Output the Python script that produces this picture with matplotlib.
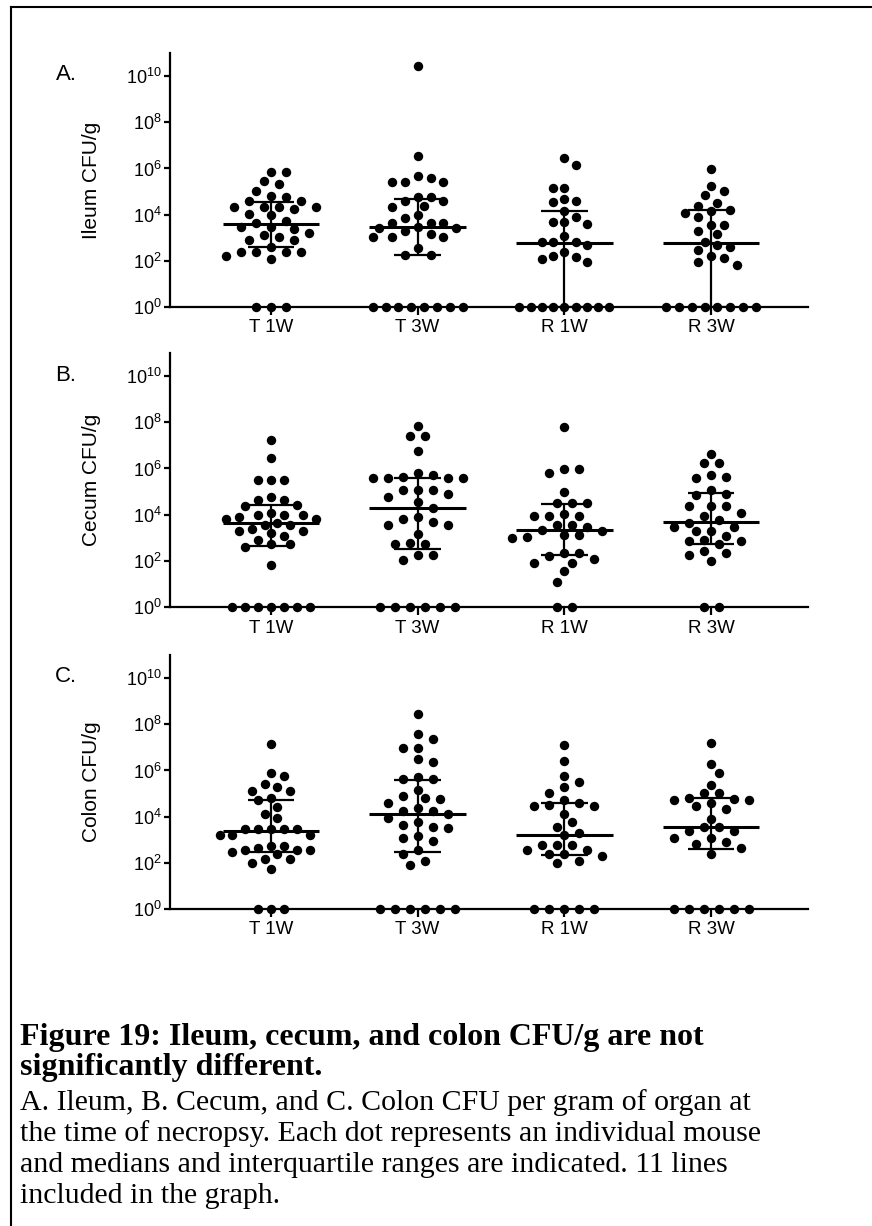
import numpy as np
import matplotlib
matplotlib.use("Agg")
import matplotlib.pyplot as plt
from matplotlib.lines import Line2D
from matplotlib.ticker import NullLocator

plt.rcParams["font.family"] = ["Liberation Sans", "DejaVu Sans"]
plt.rcParams["mathtext.fontset"] = "custom"
plt.rcParams["mathtext.rm"] = "Liberation Sans"
plt.rcParams["mathtext.it"] = "Liberation Sans:italic"

# ---------------------------------------------------------------------------
# Data (log10 CFU/g per mouse; 0 = no growth, drawn on the 10^0 floor)
# ---------------------------------------------------------------------------
groups = ["T 1W", "T 3W", "R 1W", "R 3W"]

ileum_t1w = [5.86, 5.86, 5.47, 5.32, 5.04, 4.81, 4.75, 4.6, 4.6, 4.35, 4.35, 4.35, 4.35,
             4.23, 4.03, 3.97, 3.74, 3.65, 3.48, 3.48, 3.37, 3.22, 3.11, 3.05, 2.88, 2.88,
             2.62, 2.39, 2.39, 2.39, 2.39, 2.19, 2.1, 0, 0, 0]
ileum_t3w = [10.43, 6.53, 5.67, 5.6, 5.4, 5.4, 5.4, 4.78, 4.78, 4.59, 4.59, 4.39, 4.35,
             3.99, 3.84, 3.65, 3.65, 3.63, 3.48, 3.44, 3.44, 3.27, 3.15, 3.05, 3.05, 3.05,
             2.55, 2.27, 2.27, 0, 0, 0, 0, 0, 0, 0, 0]
ileum_r1w = [6.46, 6.14, 5.17, 5.17, 4.66, 4.6, 4.53, 4.17, 3.88, 3.67, 3.67, 3.6, 3.08,
             2.83, 2.83, 2.83, 2.68, 2.4, 2.22, 2.16, 2.07, 1.97, 0, 0, 0, 0, 0, 0, 0, 0, 0]
ileum_r3w = [5.97, 5.25, 5.01, 4.86, 4.52, 4.39, 4.2, 4.17, 4.06, 3.91, 3.55, 3.55, 3.27,
             3.17, 2.83, 2.69, 2.62, 2.46, 2.19, 2.12, 1.96, 1.8, 0, 0, 0, 0, 0, 0, 0, 0]

cecum_t1w = [7.22, 6.45, 5.48, 5.48, 5.48, 4.76, 4.63, 4.63, 4.4, 4.37, 4.05, 4.0, 4.0,
             4.0, 3.9, 3.82, 3.82, 3.65, 3.57, 3.53, 3.39, 3.29, 3.29, 3.21, 3.07, 2.92,
             2.71, 2.71, 2.6, 1.84, 0, 0, 0, 0, 0, 0, 0]
cecum_t3w = [7.84, 7.41, 7.41, 6.76, 5.79, 5.73, 5.64, 5.6, 5.6, 5.6, 5.6, 5.07, 5.07,
             5.07, 4.88, 4.78, 4.54, 4.3, 3.91, 3.79, 3.7, 3.57, 3.53, 3.18, 2.78, 2.71,
             2.71, 2.27, 2.27, 2.05, 0, 0, 0, 0, 0, 0]
cecum_r1w = [7.8, 5.96, 5.96, 5.82, 4.98, 4.52, 4.52, 4.52, 4.01, 3.94, 3.94, 3.94, 3.57,
             3.57, 3.47, 3.33, 3.29, 3.1, 3.1, 3.04, 3.0, 2.34, 2.34, 2.2, 2.06, 1.91,
             1.91, 1.55, 1.09, 0, 0]
cecum_r3w = [6.61, 6.25, 6.25, 5.72, 5.64, 5.6, 5.07, 4.91, 4.83, 4.37, 4.37, 4.37, 4.05,
             3.94, 3.75, 3.65, 3.47, 3.47, 3.29, 3.29, 3.07, 2.92, 2.85, 2.85, 2.71, 2.42,
             2.34, 2.24, 2.01, 0, 0]

colon_t1w = [7.13, 5.87, 5.75, 5.43, 5.29, 5.1, 5.1, 4.81, 4.71, 4.41, 4.1, 3.93, 3.48,
             3.48, 3.48, 3.48, 3.48, 3.22, 3.22, 3.22, 2.74, 2.74, 2.64, 2.57, 2.57, 2.57,
             2.49, 2.39, 2.16, 2.16, 1.99, 1.72, 0, 0, 0]
colon_t3w = [8.43, 7.57, 7.35, 6.99, 6.99, 6.48, 6.36, 5.72, 5.61, 5.61, 5.17, 4.88, 4.8,
             4.77, 4.57, 4.38, 4.23, 4.23, 4.13, 3.94, 3.77, 3.65, 3.55, 3.51, 3.17, 3.07,
             2.93, 2.54, 2.39, 2.1, 1.91, 0, 0, 0, 0, 0, 0]
colon_r1w = [7.09, 6.43, 5.78, 5.51, 5.28, 5.03, 4.74, 4.59, 4.52, 4.48, 4.48, 4.13, 3.75,
             3.55, 3.29, 3.2, 2.78, 2.78, 2.78, 2.57, 2.57, 2.38, 2.38, 2.28, 2.1, 2.01,
             0, 0, 0, 0, 0]
colon_r3w = [7.2, 6.26, 5.87, 5.39, 5.03, 5.03, 4.81, 4.77, 4.71, 4.71, 4.57, 4.45, 4.35,
             3.91, 3.55, 3.55, 3.36, 3.36, 3.07, 3.07, 2.88, 2.81, 2.64, 2.38,
             0, 0, 0, 0, 0, 0]

# median, Q1, Q3 (log10) as drawn in the original
ileum_median = [3.58, 3.48, 2.79, 2.78]
ileum_q1 = [2.60, 2.27, 0.0, 0.0]
ileum_q3 = [4.55, 4.69, 4.16, 4.20]
cecum_median = [3.62, 4.30, 3.33, 3.68]
cecum_q1 = [2.64, 2.53, 2.24, 2.74]
cecum_q3 = [4.40, 5.60, 4.47, 4.95]
colon_median = [3.36, 4.13, 3.19, 3.54]
colon_q1 = [2.49, 2.46, 2.32, 2.59]
colon_q3 = [4.70, 5.58, 4.59, 4.80]

panels = [
    ("A.", "Ileum CFU/g", [ileum_t1w, ileum_t3w, ileum_r1w, ileum_r3w],
     ileum_median, ileum_q1, ileum_q3),
    ("B.", "Cecum CFU/g", [cecum_t1w, cecum_t3w, cecum_r1w, cecum_r3w],
     cecum_median, cecum_q1, cecum_q3),
    ("C.", "Colon CFU/g", [colon_t1w, colon_t3w, colon_r1w, colon_r3w],
     colon_median, colon_q1, colon_q3),
]

caption_title = ["Figure 19: Ileum, cecum, and colon CFU/g are not",
                 "significantly different."]
caption_body = ["A. Ileum, B. Cecum, and C. Colon CFU per gram of organ at",
                "the time of necropsy. Each dot represents an individual mouse",
                "and medians and interquartile ranges are indicated. 11 lines",
                "included in the graph."]

# ---------------------------------------------------------------------------
# Layout (pixels, measured from the top-left corner)
# ---------------------------------------------------------------------------
W, H = 872, 1226
AX_LEFT, AX_RIGHT = 170, 808
AX_TOPS = [53, 353, 655]
AX_HEIGHT = 254


def swarm(ypix, step=15.0, min_dist=11.0, max_span=90.0):
    """Simple column-scatter layout: returns horizontal pixel offsets."""
    ypix = np.asarray(ypix, dtype=float)
    offs = np.zeros(len(ypix))
    zero = np.where(ypix == 0)[0]
    offs[zero] = (np.arange(len(zero)) - (len(zero) - 1) / 2) * step
    placed = [(offs[i], 0.0) for i in zero]
    half = step / 2
    for i in np.argsort(-ypix):
        if ypix[i] == 0:
            continue
        y = ypix[i]
        for k in range(60):
            right = sum(1 for p in placed if p[0] > 0)
            left = sum(1 for p in placed if p[0] < 0)
            cands = [0.0] if k == 0 else ([k * half, -k * half] if right <= left
                                          else [-k * half, k * half])
            ok = None
            for c in cands:
                if all(np.hypot(c - px, y - py) >= min_dist for px, py in placed):
                    ok = c
                    break
            if ok is not None:
                offs[i] = ok
                placed.append((ok, y))
                break
    span = offs.max() - offs.min()
    if span > max_span:
        offs *= max_span / span
    return offs


fig = plt.figure(figsize=(W / 100, H / 100), dpi=100)

for (tag, ylabel, data, med, q1, q3), top in zip(panels, AX_TOPS):
    rect = [AX_LEFT / W, 1 - (top + AX_HEIGHT) / H,
            (AX_RIGHT - AX_LEFT) / W, AX_HEIGHT / H]
    ax = fig.add_axes(rect)
    ax.set_yscale("log")
    ax.set_ylim(1, 1e11)
    unit = (711 - 271) / 3
    ax.set_xlim((AX_LEFT - 271) / unit, (AX_RIGHT - 271) / unit)

    px_per_x = ax.transData.transform((1, 1))[0] - ax.transData.transform((0, 1))[0]
    px_per_dec = (ax.transData.transform((0, 10))[1]
                  - ax.transData.transform((0, 1))[1])

    for i, vals in enumerate(data):
        vals = np.asarray(vals)
        offs = swarm(vals * px_per_dec)
        ax.scatter(i + offs / px_per_x, 10.0 ** vals, s=46, color="black",
                   linewidths=0, clip_on=False, zorder=3)
        ax.hlines(10.0 ** med[i], i - 0.33, i + 0.33, color="black", lw=2.2, zorder=4)
        ax.hlines([10.0 ** q1[i], 10.0 ** q3[i]], i - 0.16, i + 0.16,
                  color="black", lw=1.6, zorder=4)
        ax.vlines(i, 10.0 ** q1[i], 10.0 ** q3[i], color="black", lw=1.6, zorder=4)

    ax.set_xticks(range(len(groups)))
    ax.set_xticklabels(groups)
    yt = [0, 2, 4, 6, 8, 10]
    ax.set_yticks([10.0 ** e for e in yt])
    ax.set_yticklabels([r"$\mathregular{10^{%d}}$" % e for e in yt])
    ax.yaxis.set_minor_locator(NullLocator())

    for s in ("top", "right"):
        ax.spines[s].set_visible(False)
    for s in ("left", "bottom"):
        ax.spines[s].set_linewidth(1.6)
    ax.tick_params(axis="y", direction="out", length=4, width=1.6,
                   labelsize=13, pad=2)
    ax.tick_params(axis="x", direction="out", length=6, width=1.6,
                   labelsize=13.5, pad=3)
    ax.set_ylabel(ylabel, fontsize=15)
    ax.yaxis.set_label_coords((101 - AX_LEFT) / (AX_RIGHT - AX_LEFT), 0.5)

    fig.text(66 / W, 1 - (top + 22) / H, tag, fontsize=16, ha="center", va="center")

# caption
serif = ["Liberation Serif", "DejaVu Serif"]
for j, line in enumerate(caption_title):
    fig.text(20 / W, 1 - (1037 + 30 * j) / H, line, family=serif, fontsize=23,
             fontweight="bold", va="center", ha="left")
for j, line in enumerate(caption_body):
    fig.text(20 / W, 1 - (1103 + 31 * j) / H, line, family=serif, fontsize=21.5,
             va="center", ha="left")

# frame around the figure (top and left edges only)
fig.add_artist(Line2D([11 / W, 1], [1 - 7 / H, 1 - 7 / H], color="black", lw=1.5,
                      transform=fig.transFigure))
fig.add_artist(Line2D([11 / W, 11 / W], [0, 1 - 7 / H], color="black", lw=1.5,
                      transform=fig.transFigure))

fig.savefig("out.png", dpi=100)
